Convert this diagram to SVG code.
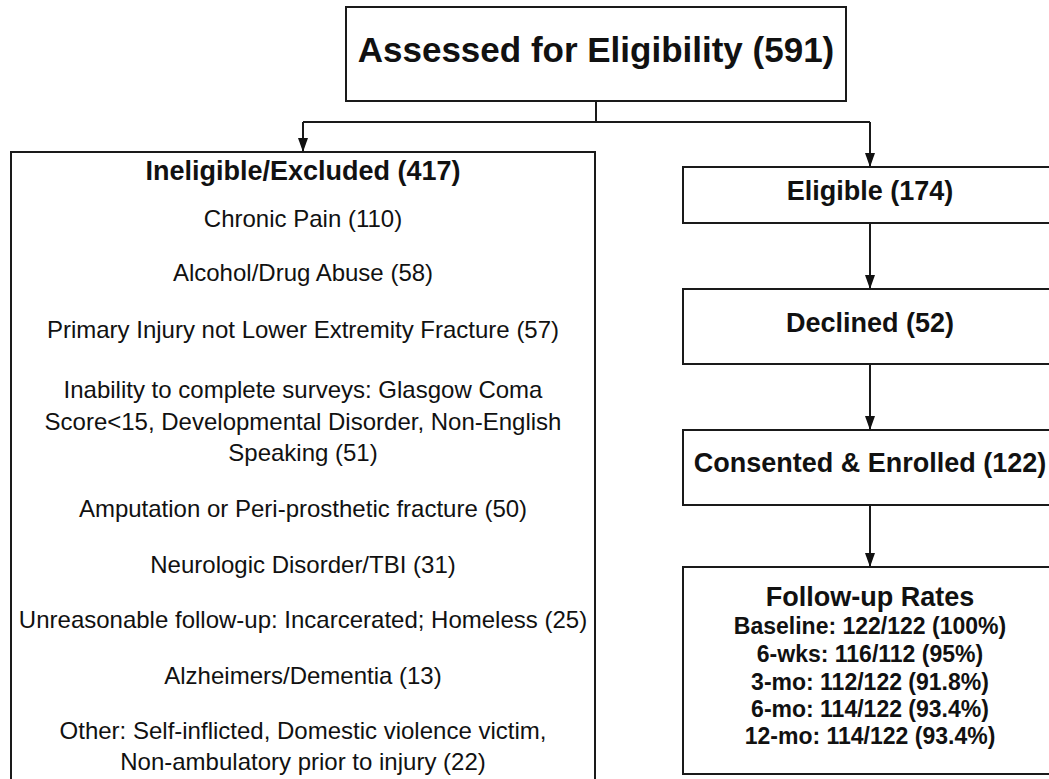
<svg xmlns="http://www.w3.org/2000/svg" width="1049" height="779" viewBox="0 0 1049 779">
<style>
.box{fill:#fff;stroke:#1a1a1a;stroke-width:2}
.ln{fill:none;stroke:#1a1a1a;stroke-width:2}
.arr{marker-end:url(#ah)}
text{font-family:"Liberation Sans",Arial,sans-serif;fill:#111;text-anchor:middle}
.b{font-weight:bold}
.t1{font-size:35px}
.t2{font-size:27px}
.t3{font-size:23px}
.r{font-size:24px}
</style>
<defs>
<marker id="ah" viewBox="0 0 14 10" refX="14" refY="5" markerWidth="14" markerHeight="10" markerUnits="userSpaceOnUse" orient="auto">
<path d="M0 0 L14 5 L0 10 Z" fill="#111"/>
</marker>
</defs>
<rect width="1049" height="779" fill="#fff"/>
<g id="connectors">
<path class="ln" d="M596 101 V122"/>
<path class="ln" d="M303 122 H870"/>
<path class="ln arr" d="M303 122 V152"/>
<path class="ln arr" d="M870 122 V167"/>
<path class="ln arr" d="M870 223 V289"/>
<path class="ln arr" d="M870 364 V430"/>
<path class="ln arr" d="M870 505 V567"/>
</g>
<g id="assessed">
<rect class="box" x="346" y="7" width="500" height="94"/>
<text class="b t1" x="596" y="62">Assessed for Eligibility (591)</text>
</g>
<g id="ineligible">
<rect class="box" x="11" y="152" width="584" height="640"/>
<text class="b t2" x="303" y="180">Ineligible/Excluded (417)</text>
<text class="r" x="303" y="227">Chronic Pain (110)</text>
<text class="r" x="303" y="281">Alcohol/Drug Abuse (58)</text>
<text class="r" x="303" y="338">Primary Injury not Lower Extremity Fracture (57)</text>
<text class="r" x="303" y="398">Inability to complete surveys: Glasgow Coma</text>
<text class="r" x="303" y="430">Score&lt;15, Developmental Disorder, Non-English</text>
<text class="r" x="303" y="461">Speaking (51)</text>
<text class="r" x="303" y="517">Amputation or Peri-prosthetic fracture (50)</text>
<text class="r" x="303" y="573">Neurologic Disorder/TBI (31)</text>
<text class="r" x="303" y="628">Unreasonable follow-up: Incarcerated; Homeless (25)</text>
<text class="r" x="303" y="684">Alzheimers/Dementia (13)</text>
<text class="r" x="303" y="739">Other: Self-inflicted, Domestic violence victim,</text>
<text class="r" x="303" y="770">Non-ambulatory prior to injury (22)</text>
</g>
<g id="eligible">
<rect class="box" x="683" y="167" width="374" height="56"/>
<text class="b t2" x="870" y="200">Eligible (174)</text>
</g>
<g id="declined">
<rect class="box" x="683" y="289" width="374" height="75"/>
<text class="b t2" x="870" y="332">Declined (52)</text>
</g>
<g id="enrolled">
<rect class="box" x="683" y="430" width="374" height="75"/>
<text class="b t2" x="870" y="472">Consented &amp; Enrolled (122)</text>
</g>
<g id="followup">
<rect class="box" x="683" y="567" width="374" height="207"/>
<text class="b t2" x="870" y="606">Follow-up Rates</text>
<text class="b t3" x="870" y="634">Baseline: 122/122 (100%)</text>
<text class="b t3" x="870" y="662">6-wks: 116/112 (95%)</text>
<text class="b t3" x="870" y="690">3-mo: 112/122 (91.8%)</text>
<text class="b t3" x="870" y="717">6-mo: 114/122 (93.4%)</text>
<text class="b t3" x="870" y="744">12-mo: 114/122 (93.4%)</text>
</g>
</svg>
